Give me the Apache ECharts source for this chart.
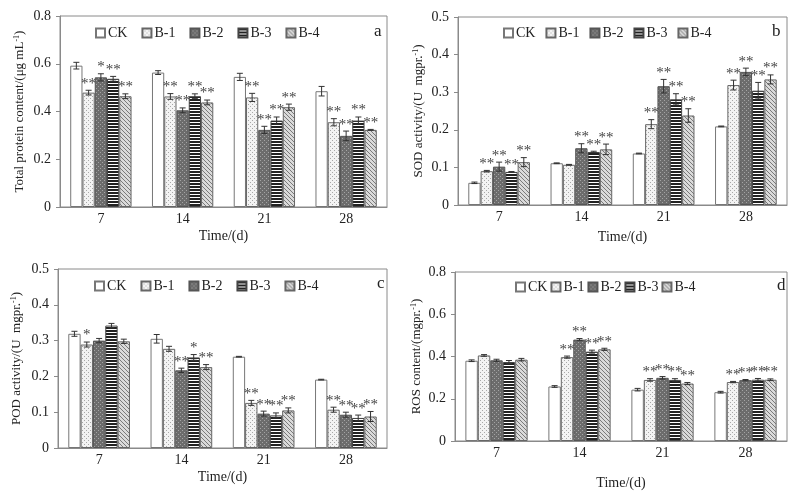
<!DOCTYPE html>
<html><head><meta charset="utf-8">
<script src="https://cdn.jsdelivr.net/npm/echarts@6/dist/echarts.min.js"></script>
<style>html,body{margin:0;padding:0;background:#fff}#c{width:800px;height:491px}</style>
</head><body><div id="c"></div>
<script>
// ---------- data ----------
const categories = ['7', '14', '21', '28'];
const seriesNames = ['CK', 'B-1', 'B-2', 'B-3', 'B-4'];
const panelLetters = ['a', 'b', 'c', 'd'];
const yMax = [0.8, 0.5, 0.5, 0.8];
const yInterval = [0.2, 0.1, 0.1, 0.2];

// Panel a: Total protein content (rows: CK, B-1, B-2, B-3, B-4; columns: day 7,14,21,28)
const proteinMean = [
  [0.592, 0.563, 0.545, 0.485],
  [0.479, 0.463, 0.459, 0.355],
  [0.543, 0.405, 0.323, 0.298],
  [0.537, 0.464, 0.362, 0.362],
  [0.464, 0.438, 0.418, 0.323]
];
const proteinErr = [
  [0.014, 0.008, 0.015, 0.020],
  [0.010, 0.012, 0.017, 0.015],
  [0.015, 0.010, 0.015, 0.020],
  [0.010, 0.010, 0.015, 0.015],
  [0.010, 0.010, 0.013, 0.002]
];
const proteinSig = [
  ['', '', '', ''],
  ['**', '**', '**', '**'],
  ['*', '**', '**', '**'],
  ['**', '**', '**', '**'],
  ['**', '**', '**', '**']
];

// Panel b: SOD activity
const sodMean = [
  [0.059, 0.111, 0.137, 0.209],
  [0.090, 0.107, 0.215, 0.319],
  [0.102, 0.151, 0.316, 0.354],
  [0.088, 0.141, 0.281, 0.304],
  [0.114, 0.148, 0.238, 0.334]
];
const sodErr = [
  [0.002, 0.001, 0.001, 0.001],
  [0.002, 0.001, 0.012, 0.013],
  [0.012, 0.012, 0.018, 0.010],
  [0.001, 0.002, 0.015, 0.022],
  [0.012, 0.014, 0.018, 0.012]
];
const sodSig = [
  ['', '', '', ''],
  ['**', '', '**', '**'],
  ['**', '**', '**', '**'],
  ['**', '**', '**', '**'],
  ['**', '**', '**', '**']
];

// Panel c: POD activity
const podMean = [
  [0.319, 0.305, 0.255, 0.191],
  [0.289, 0.277, 0.126, 0.107],
  [0.300, 0.217, 0.096, 0.093],
  [0.342, 0.253, 0.091, 0.084],
  [0.298, 0.226, 0.105, 0.088]
];
const podErr = [
  [0.007, 0.012, 0.001, 0.001],
  [0.007, 0.007, 0.007, 0.007],
  [0.006, 0.006, 0.007, 0.007],
  [0.006, 0.008, 0.007, 0.008],
  [0.006, 0.007, 0.007, 0.014]
];
const podSig = [
  ['', '', '', ''],
  ['*', '', '**', '**'],
  ['', '**', '**', '**'],
  ['', '*', '**', '**'],
  ['', '**', '**', '**']
];

// Panel d: ROS content
const rosMean = [
  [0.380, 0.258, 0.243, 0.231],
  [0.405, 0.397, 0.289, 0.279],
  [0.382, 0.480, 0.299, 0.288],
  [0.374, 0.423, 0.289, 0.290],
  [0.385, 0.434, 0.272, 0.290]
];
const rosErr = [
  [0.004, 0.004, 0.006, 0.004],
  [0.004, 0.005, 0.006, 0.003],
  [0.005, 0.005, 0.006, 0.003],
  [0.007, 0.007, 0.006, 0.006],
  [0.006, 0.005, 0.005, 0.004]
];
const rosSig = [
  ['', '', '', ''],
  ['', '**', '**', '**'],
  ['', '**', '**', '**'],
  ['', '**', '**', '**'],
  ['', '**', '**', '**']
];

// ---------- styling ----------
const FONT = '"Liberation Serif", "Times New Roman", serif';
function pat(w, h, draw) {
  const c = document.createElement('canvas');
  c.width = w; c.height = h;
  const g = c.getContext('2d');
  draw(g);
  return { image: c, repeat: 'repeat' };
}
const fills = [
  '#ffffff',
  pat(4, 4, g => { g.fillStyle = '#f3f3f3'; g.fillRect(0, 0, 4, 4); g.fillStyle = '#a8a8a8'; g.fillRect(0, 0, 1, 1); g.fillRect(2, 2, 1, 1); }),
  pat(4, 4, g => { g.fillStyle = '#6c6c6c'; g.fillRect(0, 0, 4, 4); g.fillStyle = '#a4a4a4'; g.fillRect(0, 0, 1, 1); g.fillRect(2, 2, 1, 1); }),
  pat(1, 3, g => { g.fillStyle = '#ffffff'; g.fillRect(0, 0, 1, 3); g.fillStyle = '#222'; g.fillRect(0, 0, 1, 2); }),
  pat(4, 4, g => { g.fillStyle = '#dadada'; g.fillRect(0, 0, 4, 4); g.fillStyle = '#7a7a7a'; for (let i = 0; i < 4; i++) g.fillRect(i, i, 1, 1); })
];
const borderCols = ['#777', '#666', '#555', '#444', '#666'];

const grids = [
  { left: 60, top: 16, width: 327, height: 191 },
  { left: 458, top: 17, width: 329, height: 188 },
  { left: 58, top: 269, width: 329, height: 179 },
  { left: 455, top: 272, width: 332, height: 173 }
];
const yNames = [
  'Total protein content/(μg mL{s|-1})',
  'SOD activity/(U  mgpr.{s|-1})',
  'POD activity/(U  mgpr.{s|-1})',
  'ROS content/(mgpr.{s|-1})'
];
const yNameGaps = [34, 33, 35, 32];
const xNameGaps = [22, 25, 22, 35];
const legendPos = [
  { left: 90, top: 21, gap: 14 },
  { left: 498, top: 21, gap: 10 },
  { left: 89, top: 274, gap: 14 },
  { left: 510, top: 275, gap: 3 }
];
const letterPos = [[374, 23], [772, 23], [377, 275], [777, 277]];

const means = [proteinMean, sodMean, podMean, rosMean];
const errs = [proteinErr, sodErr, podErr, rosErr];
const sigs = [proteinSig, sodSig, podSig, rosSig];
const CAT_GAP = 0.25;

const option = {
  animation: false,
  backgroundColor: '#fff',
  textStyle: { fontFamily: FONT },
  grid: grids.map(g => Object.assign({ show: true, borderColor: '#8a8a8a', borderWidth: 1, backgroundColor: 'transparent' }, g)),
  xAxis: grids.map((g, p) => ({
    gridIndex: p, type: 'category', data: categories,
    name: 'Time/(d)', nameLocation: 'middle', nameGap: xNameGaps[p],
    nameTextStyle: { fontFamily: FONT, fontSize: 14, color: '#222' },
    axisLine: { lineStyle: { color: '#8a8a8a' } },
    axisTick: { inside: true, length: 4, lineStyle: { color: '#8a8a8a' } },
    axisLabel: { fontFamily: FONT, fontSize: 14, color: '#222', margin: 5 }
  })),
  yAxis: grids.map((g, p) => ({
    gridIndex: p, type: 'value', min: 0, max: yMax[p], interval: yInterval[p],
    name: yNames[p], nameLocation: 'middle', nameRotate: 90, nameGap: yNameGaps[p],
    nameTextStyle: { fontFamily: FONT, fontSize: 13, color: '#222', rich: { s: { fontFamily: FONT, fontSize: 8, verticalAlign: 'top', color: '#222' } } },
    axisLine: { show: true, lineStyle: { color: '#8a8a8a' } },
    axisTick: { show: true, length: 4, lineStyle: { color: '#8a8a8a' } },
    splitLine: { show: false },
    axisLabel: { fontFamily: FONT, fontSize: 14, color: '#222', margin: 9 }
  })),
  legend: legendPos.map((l, p) => ({
    left: l.left, top: l.top, orient: 'horizontal',
    data: seriesNames, icon: 'rect', itemWidth: 9, itemHeight: 9,
    itemGap: l.gap,
    textStyle: { fontFamily: FONT, fontSize: 14, color: '#222', padding: [0, 0, 0, -2] },
    selectedMode: false
  })),
  graphic: letterPos.map((pos, p) => ({
    type: 'text', left: pos[0], top: pos[1],
    style: { text: panelLetters[p], font: '17px ' + FONT, fill: '#222' }
  })),
  series: []
};

for (let p = 0; p < 4; p++) {
  for (let s = 0; s < 5; s++) {
    option.series.push({
      type: 'bar', name: seriesNames[s], xAxisIndex: p, yAxisIndex: p,
      data: means[p][s], barGap: '0%', barCategoryGap: (CAT_GAP * 100) + '%',
      itemStyle: { color: fills[s], borderColor: borderCols[s], borderWidth: 1 }
    });
  }
  const eData = [];
  const eSig = [];
  for (let s = 0; s < 5; s++) {
    for (let c = 0; c < 4; c++) {
      eData.push([c, s, means[p][s][c], errs[p][s][c]]);
      eSig.push(sigs[p][s][c]);
    }
  }
  option.series.push({
    type: 'custom', name: 'err' + p, xAxisIndex: p, yAxisIndex: p,
    encode: { x: 0, y: 2 }, z: 10, data: eData,
    renderItem: (params, api) => {
      const c = api.value(0), s = api.value(1), v = api.value(2), e = api.value(3);
      const center = api.coord([c, v]);
      const catW = api.size([1, 0])[0];
      const groupW = catW * (1 - CAT_GAP);
      const barW = groupW / 5;
      const x = center[0] - groupW / 2 + (s + 0.5) * barW;
      const yt = api.coord([c, v + e])[1];
      const yb = api.coord([c, v - e])[1];
      const cap = 3;
      const st = { stroke: '#333', lineWidth: 1 };
      const children = [
        { type: 'line', shape: { x1: x, y1: yt, x2: x, y2: yb }, style: st },
        { type: 'line', shape: { x1: x - cap, y1: yt, x2: x + cap, y2: yt }, style: st },
        { type: 'line', shape: { x1: x - cap, y1: yb, x2: x + cap, y2: yb }, style: st }
      ];
      const sg = eSig[params.dataIndex];
      if (sg) {
        children.push({ type: 'text', x: x, y: yt + 1, style: { text: sg, font: '15px ' + FONT, fill: '#444', align: 'center', verticalAlign: 'bottom' } });
      }
      return { type: 'group', children };
    }
  });
}

const chart = echarts.init(document.getElementById('c'), null, { renderer: 'canvas' });
chart.setOption(option);
</script>
</body></html>
